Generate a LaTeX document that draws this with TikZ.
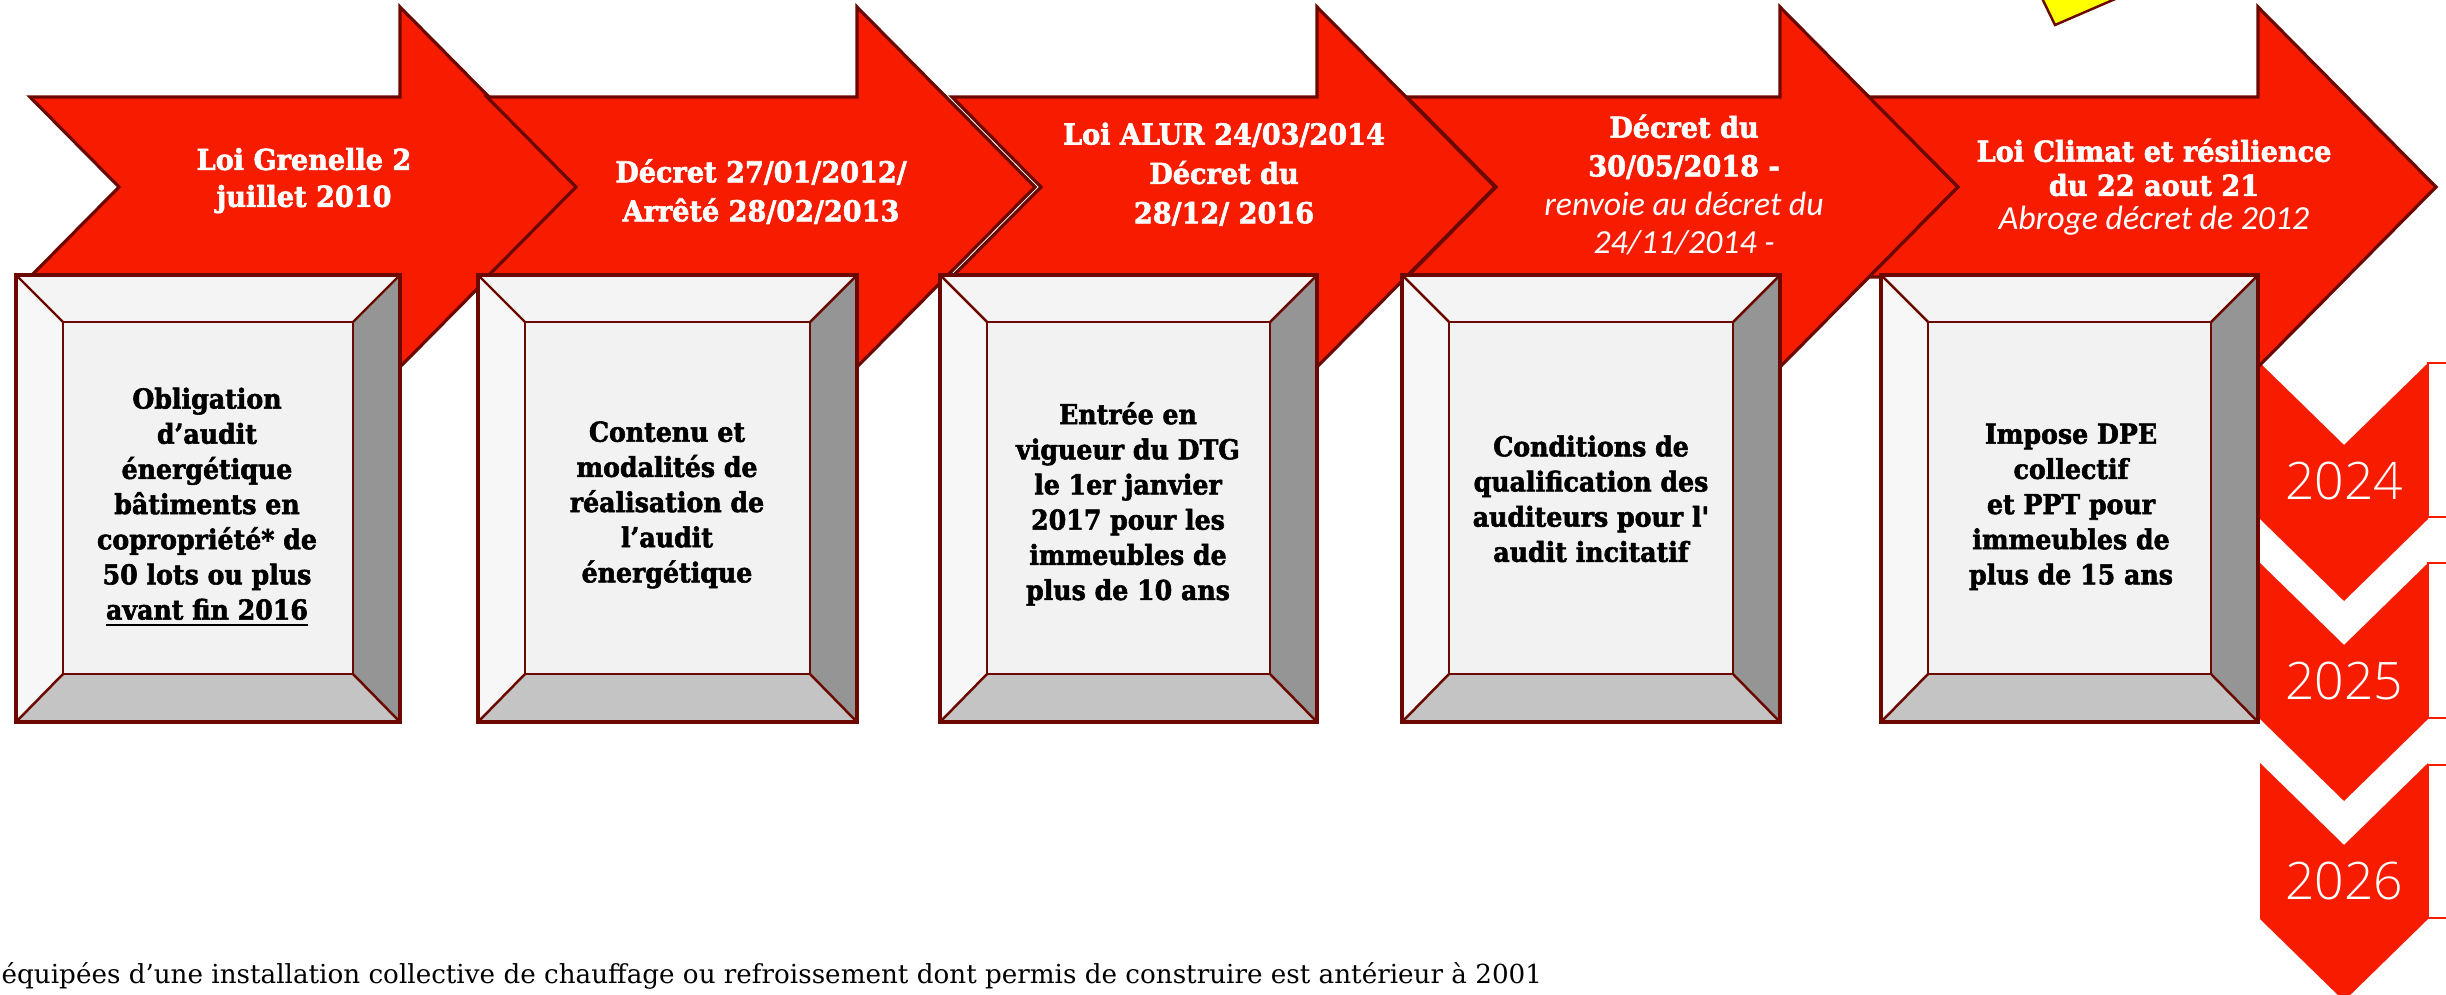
\documentclass[tikz,border=0pt]{standalone}
\usepackage{fontspec}
\setmainfont{DejaVu Serif}
\newfontfamily\rockb{DejaVu Serif}[FakeStretch=0.94, BoldFeatures={FakeBold=2}]
\newfontfamily\rockbx{DejaVu Serif}[FakeStretch=0.92, BoldFeatures={FakeBold=2}]
\newfontfamily\rockn{DejaVu Serif}
\newfontfamily\capfont{Carlito}
\IfFontExistsTF{Open Sans Light}{\newfontfamily\yearfont{Open Sans Light}}{\newfontfamily\yearfont{Open Sans}}
\definecolor{arrred}{HTML}{F71C00}
\definecolor{darkline}{HTML}{6B0800}
\definecolor{facetop}{HTML}{F4F4F4}
\definecolor{faceleft}{HTML}{F7F7F7}
\definecolor{faceinner}{HTML}{F2F2F2}
\definecolor{faceright}{HTML}{959595}
\definecolor{facebottom}{HTML}{C4C4C4}
\definecolor{yellowtip}{HTML}{FFFF00}
\newcommand\redarrow[2]{%
  \draw[arrowshape] (#1,97) -- (#2,97) -- (#2,7) -- ({#2+178},187) -- (#2,367)
    -- (#2,277) -- (#1,277) -- ({#1+89},187) -- cycle;}
\newcommand\bevelbox[2]{%
  \fill[faceinner] ({#1+47},322) rectangle ({#2-47},674);
  \fill[facetop] (#1,275) -- (#2,275) -- ({#2-47},322) -- ({#1+47},322) -- cycle;
  \fill[faceleft] (#1,275) -- ({#1+47},322) -- ({#1+47},674) -- (#1,722) -- cycle;
  \fill[faceright] (#2,275) -- (#2,722) -- ({#2-47},674) -- ({#2-47},322) -- cycle;
  \fill[facebottom] (#1,722) -- (#2,722) -- ({#2-47},674) -- ({#1+47},674) -- cycle;
  \draw[bevelline] ({#1+47},322) rectangle ({#2-47},674);
  \draw[bevelline] (#1,275) -- ({#1+47},322) (#2,275) -- ({#2-47},322)
    (#1,722) -- ({#1+47},674) (#2,722) -- ({#2-47},674);
  \draw[boxedge] (#1,275) rectangle (#2,722);}
\newcommand\yearchevron[1]{%
  \fill[arrred] (2260,#1) -- (2344,{#1+82}) -- (2428,#1) -- (2428,{#1+156})
    -- (2344,{#1+238}) -- (2260,{#1+156}) -- cycle;}
\tikzset{
  arrowshape/.style={fill=arrred, draw=darkline, line width=0.9pt, line join=miter},
  bevelline/.style={draw=darkline, line width=0.7pt},
  boxedge/.style={draw=darkline, line width=0.9pt},
  sideframe/.style={draw=arrred, line width=0.6pt, fill=white},
  arrowtitle/.style={text=white, align=center, inner sep=0pt,
    font=\rockb\bfseries\fontsize{8.2}{#1}\selectfont},
  boxtext/.style={text=black, align=center, inner sep=0pt,
    font=\rockbx\bfseries\fontsize{7.8}{10}\selectfont},
  yearlabel/.style={text=white, inner sep=0pt, font=\yearfont\fontsize{14.7}{16}\selectfont},
  footnote/.style={text=black, inner sep=0pt, anchor=base west,
    font=\rockn\fontsize{7.45}{9}\selectfont}
}
\newcommand\itl{\capfont\mdseries\itshape\fontsize{9.6}{11}\selectfont}
\newcommand\itlb{\capfont\mdseries\itshape\fontsize{9.6}{9.7}\selectfont}
\begin{document}
\begin{tikzpicture}[x=0.01cm, y=-0.01cm]
\path[use as bounding box] (0,0) rectangle (2446,994);
\clip (0,0) rectangle (2446,994);
% side frames behind the year chevrons
\draw[sideframe] (2428,363) rectangle (2480,517);
\draw[sideframe] (2428,563) rectangle (2480,718);
\draw[sideframe] (2428,765) rectangle (2480,918);
% year chevrons
\yearchevron{363}
\yearchevron{563}
\yearchevron{763}
% timeline arrows
\redarrow{30}{400}
\redarrow{487}{857}
\redarrow{952}{1317}
\redarrow{1407}{1780}
\redarrow{1869}{2258}
% bevelled boxes
\bevelbox{16}{400}
\bevelbox{478}{857}
\bevelbox{940}{1317}
\bevelbox{1402}{1780}
\bevelbox{1881}{2258}
% yellow tip at the top
\draw[fill=yellowtip, draw=darkline, line width=0.7pt] (2038,-10) -- (2055,25) -- (2136,-10) -- cycle;
% arrow titles
\node[arrowtitle=10.5] (t1) at (304,181) {\strut Loi Grenelle 2\\juillet 2010\strut};
\node[arrowtitle=11.1] (t2) at (761,194) {\strut Décret 27/01/2012/\\Arrêté 28/02/2013\strut};
\node[arrowtitle=11.2] (t3) at (1224,176) {\strut Loi ALUR 24/03/2014\\Décret du\\28/12/ 2016\strut};
\node[arrowtitle=11] (t4) at (1684,188) {\strut Décret du\\30/05/2018 -\\\itl renvoie au décret du\\\itl 24/11/2014 -\strut};
\node[arrowtitle=9.7] (t5) at (2154,189) {\strut Loi Climat et résilience\\du 22 aout 21\\\itlb Abroge décret de 2012\strut};
% box texts
\node[boxtext] (b1) at (207,507) {\strut Obligation\\d’audit\\énergétique\\bâtiments en\\copropriété* de\\50 lots ou plus\\\underline{avant fin 2016}\strut};
\node[boxtext] (b2) at (667,505) {\strut Contenu et\\modalités de\\réalisation de\\l’audit\\énergétique\strut};
\node[boxtext] (b3) at (1128,505) {\strut Entrée en\\vigueur du DTG\\le 1er janvier\\2017 pour les\\immeubles de\\plus de 10 ans\strut};
\node[boxtext] (b4) at (1591,502) {\strut Conditions de\\qualification des\\auditeurs pour l'\\audit incitatif\strut};
\node[boxtext] (b5) at (2071,507) {\strut Impose DPE\\collectif\\et PPT pour\\immeubles de\\plus de 15 ans\strut};
% years
\node[yearlabel] (y1) at (2344,481) {2024};
\node[yearlabel] (y2) at (2344,681) {2025};
\node[yearlabel] (y3) at (2344,881) {2026};
% footnote
\node[footnote] (fn) at (1,983) {équipées d’une installation collective de chauffage ou refroissement dont permis de construire est antérieur à 2001};
\end{tikzpicture}
\end{document}
